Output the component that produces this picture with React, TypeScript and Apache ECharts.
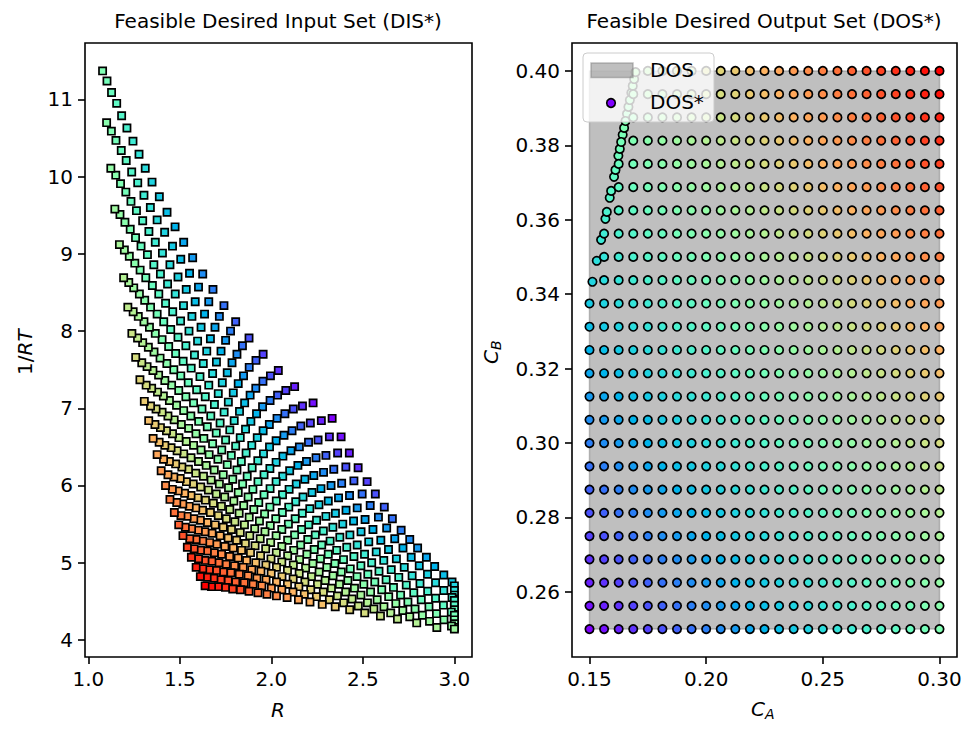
import React, { useEffect, useRef } from "react";
import * as echarts from "echarts";

// Output grid (DOS): 25 x 25 target points
const C_A = [0.15, 0.15625, 0.1625, 0.16875, 0.175, 0.18125, 0.1875, 0.19375, 0.2, 0.20625, 0.2125, 0.21875, 0.225, 0.23125, 0.2375, 0.24375, 0.25, 0.25625, 0.2625, 0.26875, 0.275, 0.28125, 0.2875, 0.29375, 0.3];
const C_B = [0.25, 0.25625, 0.2625, 0.26875, 0.275, 0.28125, 0.2875, 0.29375, 0.3, 0.30625, 0.3125, 0.31875, 0.325, 0.33125, 0.3375, 0.34375, 0.35, 0.35625, 0.3625, 0.36875, 0.375, 0.38125, 0.3875, 0.39375, 0.4];

// Inputs (DIS*) found for each reachable grid point, one list per C_A value, indexed by C_B
const R_BY_CA: number[][] = [
  [2.332, 2.381, 2.426, 2.474, 2.523, 2.568, 2.617, 2.661, 2.709, 2.756, 2.799, 2.847, 2.892, 2.942, 2.987],
  [2.228, 2.273, 2.317, 2.362, 2.407, 2.451, 2.496, 2.540, 2.585, 2.630, 2.674, 2.719, 2.764, 2.808, 2.853, 2.897, 2.942, 2.987],
  [2.127, 2.170, 2.213, 2.255, 2.298, 2.341, 2.384, 2.427, 2.469, 2.512, 2.555, 2.598, 2.640, 2.683, 2.726, 2.769, 2.812, 2.854, 2.897, 2.940, 2.983],
  [2.038, 2.079, 2.120, 2.161, 2.203, 2.244, 2.285, 2.326, 2.367, 2.408, 2.449, 2.490, 2.532, 2.573, 2.614, 2.655, 2.696, 2.737, 2.778, 2.819, 2.861, 2.902, 2.943, 2.984],
  [1.955, 1.995, 2.034, 2.074, 2.113, 2.153, 2.192, 2.232, 2.271, 2.311, 2.350, 2.390, 2.429, 2.469, 2.509, 2.548, 2.588, 2.627, 2.667, 2.706, 2.746, 2.785, 2.825, 2.864, 2.904],
  [1.878, 1.916, 1.954, 1.993, 2.031, 2.069, 2.107, 2.145, 2.183, 2.222, 2.260, 2.298, 2.336, 2.374, 2.412, 2.451, 2.489, 2.527, 2.565, 2.603, 2.641, 2.680, 2.718, 2.756, 2.794],
  [1.805, 1.842, 1.879, 1.915, 1.952, 1.989, 2.026, 2.063, 2.100, 2.136, 2.173, 2.210, 2.247, 2.284, 2.321, 2.357, 2.394, 2.431, 2.468, 2.505, 2.542, 2.578, 2.615, 2.652, 2.689],
  [1.741, 1.777, 1.812, 1.848, 1.884, 1.919, 1.955, 1.990, 2.026, 2.062, 2.097, 2.133, 2.169, 2.204, 2.240, 2.275, 2.311, 2.347, 2.382, 2.418, 2.454, 2.489, 2.525, 2.560, 2.596],
  [1.681, 1.716, 1.750, 1.785, 1.819, 1.854, 1.888, 1.923, 1.957, 1.992, 2.026, 2.061, 2.095, 2.130, 2.165, 2.199, 2.234, 2.268, 2.303, 2.337, 2.372, 2.406, 2.441, 2.475, 2.510],
  [1.625, 1.658, 1.692, 1.725, 1.759, 1.792, 1.826, 1.859, 1.893, 1.926, 1.960, 1.993, 2.027, 2.060, 2.093, 2.127, 2.160, 2.194, 2.227, 2.261, 2.294, 2.328, 2.361, 2.395, 2.428],
  [1.570, 1.602, 1.635, 1.667, 1.700, 1.732, 1.765, 1.797, 1.830, 1.862, 1.895, 1.927, 1.960, 1.992, 2.024, 2.057, 2.089, 2.122, 2.154, 2.187, 2.219, 2.252, 2.284, 2.317, 2.349],
  [1.521, 1.553, 1.584, 1.616, 1.647, 1.679, 1.710, 1.742, 1.773, 1.805, 1.836, 1.868, 1.899, 1.931, 1.963, 1.994, 2.026, 2.057, 2.089, 2.120, 2.152, 2.183, 2.215, 2.246, 2.278],
  [1.474, 1.505, 1.535, 1.566, 1.597, 1.628, 1.658, 1.689, 1.720, 1.750, 1.781, 1.812, 1.843, 1.873, 1.904, 1.935, 1.965, 1.996, 2.027, 2.057, 2.088, 2.119, 2.150, 2.180, 2.211],
  [1.430, 1.460, 1.490, 1.520, 1.550, 1.580, 1.610, 1.639, 1.669, 1.699, 1.729, 1.759, 1.789, 1.819, 1.849, 1.879, 1.909, 1.939, 1.969, 1.998, 2.028, 2.058, 2.088, 2.118, 2.148],
  [1.388, 1.417, 1.446, 1.475, 1.504, 1.533, 1.562, 1.592, 1.621, 1.650, 1.679, 1.708, 1.737, 1.766, 1.795, 1.824, 1.853, 1.882, 1.911, 1.941, 1.970, 1.999, 2.028, 2.057, 2.086],
  [1.348, 1.376, 1.405, 1.433, 1.461, 1.490, 1.518, 1.546, 1.575, 1.603, 1.631, 1.660, 1.688, 1.716, 1.745, 1.773, 1.801, 1.830, 1.858, 1.886, 1.915, 1.943, 1.971, 2.000, 2.028],
  [1.311, 1.339, 1.366, 1.394, 1.422, 1.450, 1.477, 1.505, 1.533, 1.560, 1.588, 1.616, 1.644, 1.671, 1.699, 1.727, 1.754, 1.782, 1.810, 1.837, 1.865, 1.893, 1.921, 1.948, 1.976],
  [1.277, 1.304, 1.331, 1.358, 1.385, 1.412, 1.439, 1.467, 1.494, 1.521, 1.548, 1.575, 1.602, 1.629, 1.656, 1.683, 1.710, 1.737, 1.764, 1.792, 1.819, 1.846, 1.873, 1.900, 1.927],
  [1.244, 1.270, 1.297, 1.323, 1.350, 1.376, 1.403, 1.429, 1.455, 1.482, 1.508, 1.535, 1.561, 1.587, 1.614, 1.640, 1.667, 1.693, 1.720, 1.746, 1.772, 1.799, 1.825, 1.852, 1.878],
  [1.211, 1.237, 1.263, 1.288, 1.314, 1.340, 1.366, 1.392, 1.418, 1.443, 1.469, 1.495, 1.521, 1.547, 1.573, 1.598, 1.624, 1.650, 1.676, 1.702, 1.728, 1.753, 1.779, 1.805, 1.831],
  [1.182, 1.207, 1.233, 1.258, 1.283, 1.308, 1.334, 1.359, 1.384, 1.410, 1.435, 1.460, 1.485, 1.511, 1.536, 1.561, 1.587, 1.612, 1.637, 1.663, 1.688, 1.713, 1.738, 1.764, 1.789],
  [1.155, 1.180, 1.205, 1.229, 1.254, 1.279, 1.304, 1.328, 1.353, 1.378, 1.403, 1.427, 1.452, 1.477, 1.502, 1.526, 1.551, 1.576, 1.601, 1.625, 1.650, 1.675, 1.700, 1.724, 1.749],
  [1.127, 1.151, 1.176, 1.200, 1.224, 1.248, 1.273, 1.297, 1.321, 1.346, 1.370, 1.394, 1.418, 1.443, 1.467, 1.491, 1.516, 1.540, 1.564, 1.589, 1.613, 1.637, 1.661, 1.686, 1.710],
  [1.102, 1.126, 1.150, 1.173, 1.197, 1.221, 1.245, 1.269, 1.292, 1.316, 1.340, 1.364, 1.387, 1.411, 1.435, 1.459, 1.483, 1.506, 1.530, 1.554, 1.578, 1.602, 1.625, 1.649, 1.673],
  [1.078, 1.100, 1.123, 1.145, 1.170, 1.193, 1.216, 1.238, 1.259, 1.282, 1.306, 1.330, 1.354, 1.376, 1.398, 1.422, 1.446, 1.470, 1.494, 1.517, 1.541, 1.563, 1.589, 1.612, 1.638],
];

const INV_RT_BY_CA: number[][] = [
  [6.87, 6.63, 6.42, 6.23, 6.05, 5.89, 5.72, 5.57, 5.42, 5.30, 5.19, 5.07, 4.95, 4.84, 4.75],
  [7.07, 6.84, 6.63, 6.42, 6.24, 6.06, 5.89, 5.74, 5.59, 5.45, 5.31, 5.19, 5.07, 4.96, 4.85, 4.74, 4.64, 4.55],
  [7.28, 7.03, 6.81, 6.59, 6.39, 6.21, 6.03, 5.87, 5.71, 5.56, 5.43, 5.29, 5.17, 5.05, 4.94, 4.83, 4.73, 4.63, 4.54, 4.45, 4.36],
  [7.49, 7.23, 6.99, 6.77, 6.56, 6.36, 6.17, 6.00, 5.84, 5.68, 5.54, 5.40, 5.27, 5.14, 5.03, 4.91, 4.81, 4.71, 4.61, 4.52, 4.43, 4.34, 4.26, 4.18],
  [7.70, 7.42, 7.17, 6.93, 6.71, 6.50, 6.31, 6.13, 5.96, 5.80, 5.64, 5.50, 5.36, 5.23, 5.11, 5.00, 4.89, 4.78, 4.68, 4.58, 4.49, 4.40, 4.32, 4.24, 4.16],
  [7.91, 7.62, 7.35, 7.10, 6.87, 6.65, 6.45, 6.26, 6.08, 5.91, 5.75, 5.60, 5.46, 5.33, 5.20, 5.08, 4.96, 4.85, 4.75, 4.65, 4.56, 4.47, 4.38, 4.30, 4.22],
  [8.12, 7.81, 7.53, 7.26, 7.02, 6.79, 6.58, 6.38, 6.19, 6.02, 5.85, 5.70, 5.55, 5.41, 5.28, 5.16, 5.04, 4.92, 4.82, 4.72, 4.62, 4.52, 4.43, 4.35, 4.27],
  [8.33, 8.00, 7.70, 7.42, 7.17, 6.93, 6.71, 6.50, 6.30, 6.12, 5.95, 5.79, 5.64, 5.49, 5.36, 5.23, 5.11, 4.99, 4.88, 4.77, 4.67, 4.58, 4.48, 4.40, 4.31],
  [8.54, 8.19, 7.88, 7.59, 7.32, 7.07, 6.83, 6.62, 6.41, 6.22, 6.05, 5.88, 5.72, 5.57, 5.43, 5.30, 5.17, 5.05, 4.94, 4.83, 4.72, 4.62, 4.53, 4.44, 4.35],
  [8.74, 8.38, 8.05, 7.74, 7.46, 7.20, 6.96, 6.73, 6.52, 6.32, 6.14, 5.96, 5.80, 5.65, 5.50, 5.36, 5.23, 5.11, 4.99, 4.88, 4.77, 4.67, 4.57, 4.48, 4.39],
  [8.95, 8.57, 8.22, 7.90, 7.60, 7.33, 7.08, 6.84, 6.62, 6.42, 6.23, 6.05, 5.88, 5.72, 5.57, 5.43, 5.29, 5.16, 5.04, 4.93, 4.82, 4.72, 4.62, 4.52, 4.43],
  [9.15, 8.75, 8.38, 8.05, 7.74, 7.45, 7.19, 6.95, 6.72, 6.51, 6.31, 6.12, 5.95, 5.78, 5.63, 5.48, 5.35, 5.21, 5.09, 4.97, 4.86, 4.75, 4.65, 4.56, 4.46],
  [9.35, 8.93, 8.54, 8.19, 7.87, 7.58, 7.30, 7.05, 6.81, 6.59, 6.39, 6.20, 6.02, 5.85, 5.69, 5.54, 5.40, 5.26, 5.13, 5.01, 4.90, 4.79, 4.69, 4.59, 4.49],
  [9.54, 9.10, 8.70, 8.33, 8.00, 7.69, 7.41, 7.15, 6.90, 6.68, 6.46, 6.27, 6.08, 5.91, 5.74, 5.59, 5.44, 5.31, 5.18, 5.05, 4.94, 4.82, 4.72, 4.62, 4.52],
  [9.74, 9.28, 8.86, 8.48, 8.13, 7.81, 7.52, 7.24, 6.99, 6.76, 6.54, 6.34, 6.14, 5.97, 5.80, 5.64, 5.49, 5.35, 5.22, 5.09, 4.97, 4.86, 4.75, 4.65, 4.55],
  [9.93, 9.44, 9.01, 8.61, 8.25, 7.92, 7.61, 7.33, 7.07, 6.83, 6.61, 6.40, 6.20, 6.02, 5.85, 5.69, 5.53, 5.39, 5.25, 5.13, 5.00, 4.89, 4.78, 4.67, 4.57],
  [10.11, 9.60, 9.15, 8.74, 8.36, 8.02, 7.71, 7.42, 7.15, 6.90, 6.67, 6.46, 6.26, 6.07, 5.89, 5.73, 5.57, 5.43, 5.29, 5.16, 5.03, 4.91, 4.80, 4.70, 4.59],
  [10.29, 9.76, 9.29, 8.86, 8.48, 8.12, 7.80, 7.50, 7.23, 6.97, 6.74, 6.52, 6.31, 6.12, 5.94, 5.77, 5.61, 5.46, 5.32, 5.19, 5.06, 4.94, 4.83, 4.72, 4.61],
  [10.46, 9.92, 9.43, 8.99, 8.59, 8.22, 7.89, 7.58, 7.30, 7.04, 6.79, 6.57, 6.36, 6.16, 5.98, 5.81, 5.65, 5.49, 5.35, 5.21, 5.08, 4.96, 4.85, 4.74, 4.63],
  [10.63, 10.06, 9.56, 9.10, 8.69, 8.31, 7.97, 7.65, 7.36, 7.10, 6.85, 6.62, 6.41, 6.21, 6.02, 5.84, 5.68, 5.52, 5.38, 5.24, 5.11, 4.98, 4.87, 4.75, 4.65],
  [10.79, 10.21, 9.68, 9.21, 8.79, 8.40, 8.05, 7.73, 7.43, 7.16, 6.90, 6.67, 6.45, 6.24, 6.05, 5.87, 5.71, 5.55, 5.40, 5.26, 5.13, 5.00, 4.88, 4.77, 4.66],
  [10.95, 10.34, 9.80, 9.32, 8.88, 8.48, 8.12, 7.79, 7.49, 7.21, 6.95, 6.71, 6.49, 6.28, 6.09, 5.90, 5.73, 5.57, 5.42, 5.28, 5.15, 5.02, 4.90, 4.78, 4.68],
  [11.09, 10.47, 9.91, 9.41, 8.97, 8.56, 8.19, 7.85, 7.54, 7.26, 6.99, 6.75, 6.52, 6.31, 6.11, 5.93, 5.76, 5.60, 5.44, 5.30, 5.16, 5.03, 4.91, 4.80, 4.69],
  [11.24, 10.59, 10.02, 9.51, 9.05, 8.63, 8.25, 7.91, 7.59, 7.30, 7.03, 6.79, 6.56, 6.34, 6.14, 5.95, 5.78, 5.61, 5.46, 5.31, 5.18, 5.05, 4.92, 4.81, 4.69],
  [11.37, 10.70, 10.11, 9.58, 9.12, 8.69, 8.31, 7.97, 7.66, 7.37, 7.09, 6.84, 6.61, 6.40, 6.19, 6.00, 5.82, 5.65, 5.49, 5.35, 5.20, 5.07, 4.94, 4.82, 4.70],
];

// Unreachable targets: nearest reachable outputs, with R held at its upper bound
const PROJ_CA = [0.15126, 0.15311, 0.15497, 0.15682, 0.15867, 0.16052, 0.16237, 0.16422, 0.16607, 0.16792, 0.15742, 0.15927, 0.16113, 0.16298, 0.16483, 0.16668, 0.16853, 0.16358, 0.16543, 0.16729, 0.16914, 0.16974];
const PROJ_CB = [0.34334, 0.34898, 0.35462, 0.36026, 0.36591, 0.37155, 0.37719, 0.38284, 0.38848, 0.39412, 0.36211, 0.36776, 0.3734, 0.37904, 0.38469, 0.39033, 0.39597, 0.3809, 0.38654, 0.39218, 0.39782, 0.39967];
const PROJ_R = [3.0, 3.0, 3.0, 3.0, 3.0, 3.0, 3.0, 3.0, 3.0, 3.0, 3.0, 3.0, 3.0, 3.0, 3.0, 3.0, 3.0, 3.0, 3.0, 3.0, 3.0, 3.0];
const PROJ_INV_RT = [4.70, 4.64, 4.58, 4.53, 4.47, 4.41, 4.35, 4.30, 4.24, 4.19, 4.51, 4.45, 4.39, 4.33, 4.28, 4.23, 4.18, 4.32, 4.26, 4.21, 4.16, 4.14];

const R_TICKS = [1.0, 1.5, 2.0, 2.5, 3.0];
const INV_RT_TICKS = [4, 5, 6, 7, 8, 9, 10, 11];
const CA_TICKS = [0.15, 0.2, 0.25, 0.3];
const CB_TICKS = [0.26, 0.28, 0.3, 0.32, 0.34, 0.36, 0.38, 0.4];

// matplotlib "rainbow" colormap
const RAINBOW = [
  "#8000ff", "#6628fe", "#4d4ffc", "#3374f8", "#1a96f2", "#00b4ec", "#1acee3",
  "#33e3da", "#4df3ce", "#66fcc2", "#80ffb4", "#99fca6", "#b3f396", "#cce385",
  "#e6ce74", "#ffb462", "#ff964f", "#ff743b", "#ff4f28", "#ff2814", "#ff0000",
];

const FONT = "DejaVu Sans";

function buildPoints() {
  const dis: number[][] = [];
  const dos: number[][] = [];
  let k = 0;
  for (let i = 0; i < C_A.length; i++) {
    for (let j = 0; j < C_B.length; j++) {
      if (j < R_BY_CA[i].length) {
        const s = C_A[i] + C_B[j];
        dis.push([R_BY_CA[i][j], INV_RT_BY_CA[i][j], s]);
        dos.push([C_A[i], C_B[j], s]);
      } else {
        const s = PROJ_CA[k] + PROJ_CB[k];
        dis.push([PROJ_R[k], PROJ_INV_RT[k], s]);
        dos.push([PROJ_CA[k], PROJ_CB[k], s]);
        k++;
      }
    }
  }
  return { dis, dos };
}

function padded(vals: number[]) {
  const lo = Math.min(...vals);
  const hi = Math.max(...vals);
  const m = (hi - lo) * 0.05;
  return { min: lo - m, max: hi + m };
}

function valueAxis(gridIndex: number, range: { min: number; max: number }, ticks: number[], digits: number) {
  return {
    type: "value",
    gridIndex,
    min: range.min,
    max: range.max,
    axisLine: { show: false, onZero: false },
    axisTick: { show: true, inside: false, length: 7, customValues: ticks, lineStyle: { color: "#000", width: 1.6 } },
    axisLabel: {
      show: true,
      customValues: ticks,
      color: "#000",
      fontSize: 20,
      fontFamily: FONT,
      margin: 12,
      formatter: (v: number) => v.toFixed(digits),
    },
    splitLine: { show: false },
  };
}

export default function App() {
  const ref = useRef<HTMLDivElement>(null);

  useEffect(() => {
    if (!ref.current) return;
    const chart = echarts.init(ref.current, null, { renderer: "svg" });
    const { dis, dos } = buildPoints();

    const rRange = padded(dis.map((p) => p[0]));
    const dRange = padded(dis.map((p) => p[1]));
    const aRange = padded(dos.map((p) => p[0]));
    const bRange = padded(dos.map((p) => p[1]));

    const txt = (text: string, x: number, y: number, size: number, opts: any = {}) => ({
      type: "text",
      x,
      y,
      z: 100,
      style: {
        text,
        fontSize: size,
        fontFamily: FONT,
        fontStyle: opts.italic ? "italic" : "normal",
        fill: "#000",
        align: opts.align || "left",
        verticalAlign: "middle",
      },
    });

    const option: any = {
      animation: false,
      backgroundColor: "#ffffff",
      grid: [
        { left: 85, top: 43, width: 387, height: 614, show: true, borderColor: "#000", borderWidth: 1.6, backgroundColor: "transparent" },
        { left: 572, top: 43, width: 385, height: 614, show: true, borderColor: "#000", borderWidth: 1.6, backgroundColor: "transparent" },
      ],
      xAxis: [valueAxis(0, rRange, R_TICKS, 1), valueAxis(1, aRange, CA_TICKS, 2)],
      yAxis: [valueAxis(0, dRange, INV_RT_TICKS, 0), valueAxis(1, bRange, CB_TICKS, 2)],
      visualMap: {
        show: false,
        type: "continuous",
        dimension: 2,
        min: 0.4,
        max: 0.7,
        seriesIndex: [1, 2],
        inRange: { color: RAINBOW },
      },
      series: [
        {
          type: "custom",
          xAxisIndex: 1,
          yAxisIndex: 1,
          silent: true,
          z: 1,
          data: [[C_A[0], C_B[0], C_A[C_A.length - 1], C_B[C_B.length - 1]]],
          renderItem: (_p: any, api: any) => {
            const p0 = api.coord([api.value(0), api.value(1)]);
            const p1 = api.coord([api.value(2), api.value(3)]);
            return {
              type: "rect",
              shape: { x: p0[0], y: p1[1], width: p1[0] - p0[0], height: p0[1] - p1[1] },
              style: { fill: "rgba(128,128,128,0.5)", stroke: "rgba(128,128,128,0.5)", lineWidth: 1.5 },
            };
          },
        },
        {
          type: "scatter",
          xAxisIndex: 0,
          yAxisIndex: 0,
          symbol: "rect",
          symbolSize: 7.2,
          progressive: 0,
          z: 2,
          itemStyle: { borderColor: "#000", borderWidth: 1.7, opacity: 1 },
          data: dis,
        },
        {
          type: "scatter",
          xAxisIndex: 1,
          yAxisIndex: 1,
          symbol: "circle",
          symbolSize: 8.4,
          progressive: 0,
          z: 2,
          itemStyle: { borderColor: "#000", borderWidth: 1.7, opacity: 1 },
          data: dos,
        },
      ],
      graphic: [
        txt("Feasible Desired Input Set (DIS*)", 278, 21, 20, { align: "center" }),
        txt("Feasible Desired Output Set (DOS*)", 764, 21, 20, { align: "center" }),
        txt("R", 278, 710, 20, { italic: true, align: "center" }),
        txt("C", 751, 709, 20, { italic: true }),
        txt("A", 765, 714, 14, { italic: true }),
        {
          type: "group",
          x: 25,
          y: 352,
          rotation: Math.PI / 2,
          children: [txt("1/", -23, 0, 20), txt("RT", -3.5, 0, 20, { italic: true })],
        },
        {
          type: "group",
          x: 491,
          y: 352,
          rotation: Math.PI / 2,
          children: [txt("C", -12, 0, 20, { italic: true }), txt("B", 2, 5, 14, { italic: true })],
        },
        {
          type: "rect",
          z: 100,
          shape: { x: 583, y: 53, width: 131, height: 69, r: 4 },
          style: { fill: "rgba(255,255,255,0.8)", stroke: "#cccccc", lineWidth: 1 },
        },
        {
          type: "rect",
          z: 101,
          shape: { x: 591, y: 63, width: 42, height: 14.5 },
          style: { fill: "rgba(128,128,128,0.5)", stroke: "rgba(128,128,128,0.5)", lineWidth: 1.5 },
        },
        txt("DOS", 650, 70, 20),
        {
          type: "circle",
          z: 101,
          shape: { cx: 611, cy: 103, r: 4.3 },
          style: { fill: RAINBOW[0], stroke: "#000", lineWidth: 1.6 },
        },
        txt("DOS*", 650, 102, 20),
      ],
    };

    chart.setOption(option);
    return () => chart.dispose();
  }, []);

  return (
    <div
      ref={ref}
      style={{ position: "fixed", left: 0, top: 0, width: 977, height: 737, background: "#ffffff" }}
    />
  );
}
